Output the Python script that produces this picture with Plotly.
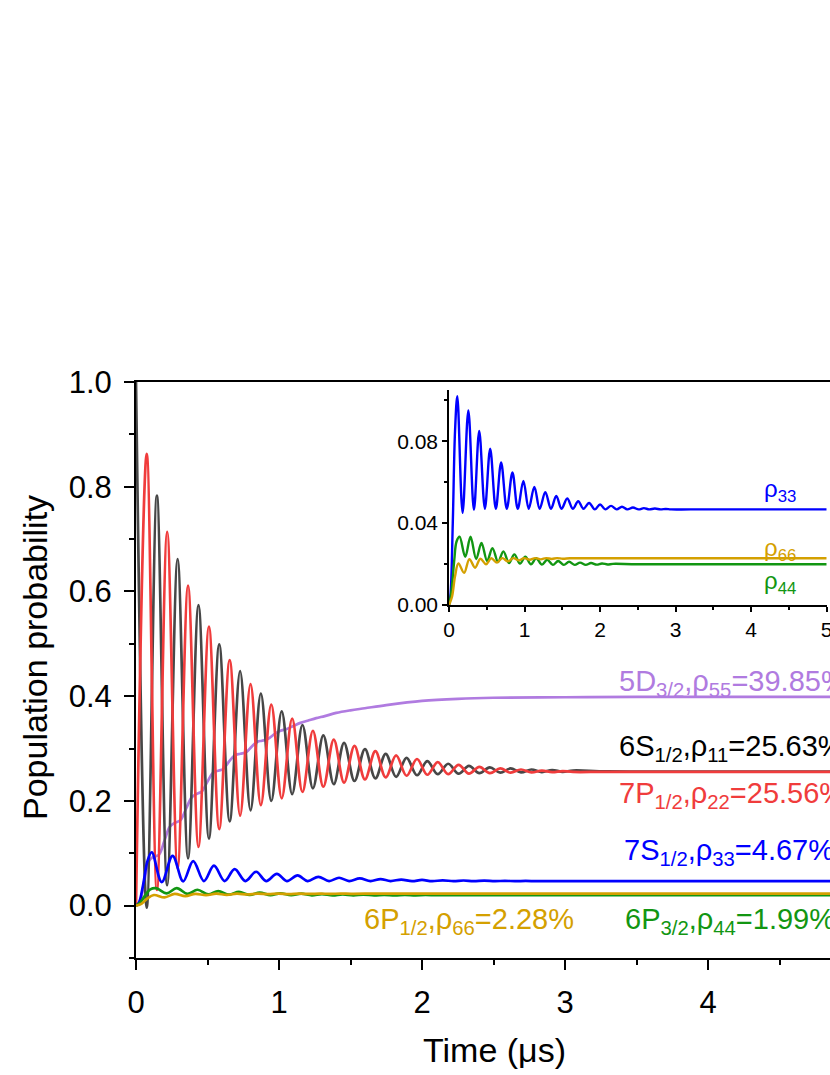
import plotly.graph_objects as go

W, H = 830, 1075

# --- extremum times (us) shared by the two large oscillating populations ---
t_even = [0.000, 0.146, 0.291, 0.437, 0.582, 0.728, 0.873, 1.019, 1.164, 1.310, 1.455,
          1.601, 1.746, 1.892, 2.037, 2.183, 2.328, 2.474, 2.619, 2.765, 2.910, 3.056]
t_odd = [0.075, 0.218, 0.364, 0.510, 0.655, 0.801, 0.946, 1.092, 1.237, 1.383, 1.528,
         1.674, 1.819, 1.965, 2.110, 2.256, 2.401, 2.547, 2.692, 2.838, 2.983]
t_tail = [3.30, 5.00]

# rho11 (6S1/2): peaks on t_even, troughs on t_odd
rho11_peaks = [1.000, 0.783, 0.662, 0.574, 0.499, 0.448, 0.405, 0.371, 0.345, 0.325, 0.311,
               0.299, 0.290, 0.282, 0.276, 0.271, 0.267, 0.264, 0.262, 0.260, 0.259, 0.258]
rho11_troughs = [-0.004, 0.039, 0.090, 0.128, 0.161, 0.182, 0.200, 0.213, 0.224, 0.232, 0.238,
                 0.243, 0.246, 0.249, 0.251, 0.252, 0.253, 0.254, 0.2545, 0.255, 0.2555]
rho11_tail = [0.2563, 0.2563]

# rho22 (7P1/2): peaks on t_odd, troughs on t_even
rho22_peaks = [0.863, 0.714, 0.611, 0.533, 0.469, 0.423, 0.384, 0.357, 0.334, 0.317, 0.305,
               0.295, 0.287, 0.280, 0.274, 0.269, 0.265, 0.262, 0.260, 0.258, 0.257]
rho22_troughs = [0.000, 0.030, 0.071, 0.112, 0.146, 0.172, 0.192, 0.205, 0.217, 0.227, 0.235,
                 0.241, 0.245, 0.248, 0.250, 0.251, 0.252, 0.253, 0.254, 0.2545, 0.255, 0.2553]
rho22_tail = [0.2556, 0.2556]

# rho55 (5D3/2)
rho55_t = [0, 0.03, 0.06, 0.09, 0.12, 0.16, 0.20, 0.235, 0.27, 0.31, 0.35, 0.39, 0.43, 0.46,
           0.50, 0.54, 0.58, 0.61, 0.65, 0.69, 0.73, 0.77, 0.81, 0.85, 0.88, 0.92, 0.97, 1.01,
           1.05, 1.10, 1.15, 1.20, 1.26, 1.32, 1.40, 1.50, 1.60, 1.75, 2.00, 2.25, 2.50, 3.00,
           3.50, 5.00]
rho55_v = [0, 0.010, 0.050, 0.085, 0.093, 0.097, 0.125, 0.150, 0.158, 0.163, 0.185, 0.207,
           0.214, 0.218, 0.237, 0.254, 0.258, 0.261, 0.275, 0.287, 0.290, 0.293, 0.304, 0.313,
           0.315, 0.318, 0.328, 0.334, 0.337, 0.343, 0.349, 0.353, 0.358, 0.362, 0.368, 0.373,
           0.377, 0.383, 0.391, 0.395, 0.397, 0.398, 0.3985, 0.3985]

# rho33 (7S1/2)
rho33_t = [0, 0.02, 0.05, 0.08, 0.11, 0.18, 0.256, 0.33, 0.40, 0.475, 0.545, 0.62, 0.69,
           0.765, 0.84, 0.91, 0.985, 1.055, 1.13, 1.20, 1.275, 1.35, 1.42, 1.49, 1.565, 1.64,
           1.71, 1.78, 1.855, 1.93, 2.00, 2.07, 2.145, 2.22, 2.29, 2.36, 2.435, 2.51, 2.58,
           2.65, 2.725, 2.80, 2.87, 2.94, 3.20, 5.00]
rho33_v = [0, 0.005, 0.040, 0.085, 0.102, 0.045, 0.095, 0.0465, 0.085, 0.047, 0.0763, 0.047,
           0.0696, 0.047, 0.0647, 0.047, 0.0606, 0.047, 0.0577, 0.047, 0.0551, 0.047, 0.0533,
           0.047, 0.0520, 0.047, 0.0507, 0.047, 0.0498, 0.0467, 0.0491, 0.0467, 0.0484, 0.0467,
           0.0480, 0.0467, 0.0476, 0.0467, 0.0473, 0.0467, 0.0471, 0.0467, 0.0469, 0.0467,
           0.0467, 0.0467]

# rho44 (6P3/2)
rho44_t = [0, 0.03, 0.07, 0.10, 0.14, 0.215, 0.285, 0.36, 0.43, 0.505, 0.575, 0.65, 0.72,
           0.795, 0.865, 0.94, 1.01, 1.085, 1.155, 1.23, 1.30, 1.375, 1.445, 1.52, 1.59, 1.665,
           1.735, 1.81, 1.88, 1.955, 2.025, 2.10, 2.17, 2.50, 5.00]
rho44_v = [0, 0.006, 0.022, 0.031, 0.0333, 0.0235, 0.0333, 0.0225, 0.0303, 0.0215, 0.0278,
           0.0210, 0.0262, 0.0205, 0.0247, 0.0202, 0.0236, 0.0199, 0.0228, 0.0197, 0.0221,
           0.0196, 0.0215, 0.0196, 0.0211, 0.0196, 0.0207, 0.0196, 0.0205, 0.0197, 0.0203,
           0.0198, 0.0201, 0.0199, 0.0199]

# rho66 (6P1/2)
rho66_t = [0, 0.04, 0.08, 0.125, 0.20, 0.27, 0.345, 0.415, 0.49, 0.56, 0.635, 0.705, 0.78,
           0.85, 0.925, 0.995, 1.07, 1.14, 1.215, 1.285, 1.36, 1.43, 1.505, 1.60, 1.80, 5.00]
rho66_v = [0, 0.004, 0.014, 0.0203, 0.0157, 0.0224, 0.0182, 0.0226, 0.0199, 0.0228, 0.0207,
           0.0229, 0.0213, 0.0229, 0.0218, 0.0229, 0.0221, 0.0229, 0.0223, 0.0229, 0.0225,
           0.0229, 0.0226, 0.0228, 0.0228, 0.0228]

main_labels = [
    ("5D<sub>3/2</sub>,ρ<sub>55</sub>=39.85%", "#b07be0"),
    ("6S<sub>1/2</sub>,ρ<sub>11</sub>=25.63%", "black"),
    ("7P<sub>1/2</sub>,ρ<sub>22</sub>=25.56%", "#f03c3c"),
    ("7S<sub>1/2</sub>,ρ<sub>33</sub>=4.67%", "#0000ff"),
    ("6P<sub>3/2</sub>,ρ<sub>44</sub>=1.99%", "#129612"),
    ("6P<sub>1/2</sub>,ρ<sub>66</sub>=2.28%", "#d4a000"),
]
inset_labels = [("ρ<sub>33</sub>", "#0000ff"), ("ρ<sub>66</sub>", "#d4a000"), ("ρ<sub>44</sub>", "#129612")]

C11, C22, C33, C44, C55, C66 = "#474747", "#f03c3c", "#0000ff", "#129612", "#b07be0", "#d4a000"
FONT = "Arial, Liberation Sans, sans-serif"


def px(x):
    return x / W


def py(y):
    return 1 - y / H


def merge(ta, va, tb, vb, tt, vt):
    pts = sorted(list(zip(ta, va)) + list(zip(tb, vb)))
    return [p[0] for p in pts] + tt, [p[1] for p in pts] + vt


t11, v11 = merge(t_even, rho11_peaks, t_odd, rho11_troughs, t_tail, rho11_tail)
t22, v22 = merge(t_odd, rho22_peaks, t_even, rho22_troughs, t_tail, rho22_tail)

fig = go.Figure()


def add_curve(t, v, color, xa="x", ya="y", width=2.7):
    fig.add_trace(go.Scatter(x=t, y=v, mode="lines", xaxis=xa, yaxis=ya, showlegend=False,
                             line=dict(color=color, width=width, shape="spline", smoothing=1.0)))


add_curve(rho55_t, rho55_v, C55)
add_curve(t11, v11, C11)
add_curve(t22, v22, C22)
add_curve(rho33_t, rho33_v, C33)
add_curve(rho44_t, rho44_v, C44)
add_curve(rho66_t, rho66_v, C66)

add_curve(rho33_t, rho33_v, C33, "x2", "y2", 2.4)
add_curve(rho44_t, rho44_v, C44, "x2", "y2", 2.4)
add_curve(rho66_t, rho66_v, C66, "x2", "y2", 2.4)

axis_common = dict(showline=True, linecolor="black", showgrid=False, zeroline=False,
                   ticks="outside", tickcolor="black", automargin=False, ticklabeloverflow="allow")

fig.update_layout(
    width=W, height=H, margin=dict(l=0, r=0, t=0, b=0, pad=0, autoexpand=False),
    paper_bgcolor="white", plot_bgcolor="white",
    font=dict(family=FONT, color="black"),
    xaxis=dict(domain=[px(136), 1.0], range=[0, 694 / 143], mirror=True, linewidth=2,
               tickvals=[0, 1, 2, 3, 4], ticklen=10, tickwidth=2, ticklabelstandoff=6,
               tickfont=dict(size=31),
               minor=dict(dtick=0.5, ticklen=5, tickwidth=2, ticks="outside", tickcolor="black"),
               **axis_common),
    yaxis=dict(domain=[py(958), py(382)], range=[-0.1, 1.0], linewidth=2,
               tickvals=[0, 0.2, 0.4, 0.6, 0.8, 1.0], tickformat=".1f", ticklen=10, tickwidth=2,
               ticklabelstandoff=6, tickfont=dict(size=31),
               minor=dict(dtick=0.1, tick0=0, ticklen=5, tickwidth=2, ticks="outside", tickcolor="black"),
               **axis_common),
    xaxis2=dict(domain=[px(449), px(826.7)], range=[0, 5], anchor="y2", linewidth=1.5,
                tickvals=[0, 1, 2, 3, 4, 5], ticklen=5, tickwidth=1.5, tickfont=dict(size=21),
                minor=dict(dtick=0.5, ticklen=3, tickwidth=1.5, ticks="outside", tickcolor="black"),
                **axis_common),
    yaxis2=dict(domain=[py(605), py(390)], range=[0, 0.105], anchor="x2", linewidth=1.5,
                tickvals=[0, 0.04, 0.08], tickformat=".2f", ticklen=5, tickwidth=1.5,
                tickfont=dict(size=21),
                minor=dict(dtick=0.02, tick0=0, ticklen=3, tickwidth=1.5, ticks="outside", tickcolor="black"),
                **axis_common),
)

# axis titles
fig.add_annotation(text="Population probability", x=px(35), y=py(658), xref="paper", yref="paper",
                   xanchor="center", yanchor="middle", textangle=-90, showarrow=False,
                   font=dict(size=34))
fig.add_annotation(text="Time (μs)", x=px(494), y=py(1050), xref="paper", yref="paper",
                   xanchor="center", yanchor="middle", showarrow=False, font=dict(size=34))

# main labels
main_pos = [(617, 683), (617, 748), (617, 795), (622, 852), (623, 921), (362, 921)]
for (txt, col), (xp, yp) in zip(main_labels, main_pos):
    fig.add_annotation(text=txt, x=px(xp), y=py(yp), xref="paper", yref="paper", xanchor="left",
                       yanchor="middle", showarrow=False, font=dict(size=29, color=col))

inset_pos = [(798, 491), (798, 549), (798, 582)]
for (txt, col), (xp, yp) in zip(inset_labels, inset_pos):
    fig.add_annotation(text=txt, x=px(xp), y=py(yp), xref="paper", yref="paper", xanchor="right",
                       yanchor="middle", showarrow=False, font=dict(size=24, color=col))

# page margin off so the figure sits at the window's top-left corner
fig.write_html("out.html", config={"displayModeBar": False},
               post_script="document.body.style.margin='0';document.body.style.overflow='hidden';")
